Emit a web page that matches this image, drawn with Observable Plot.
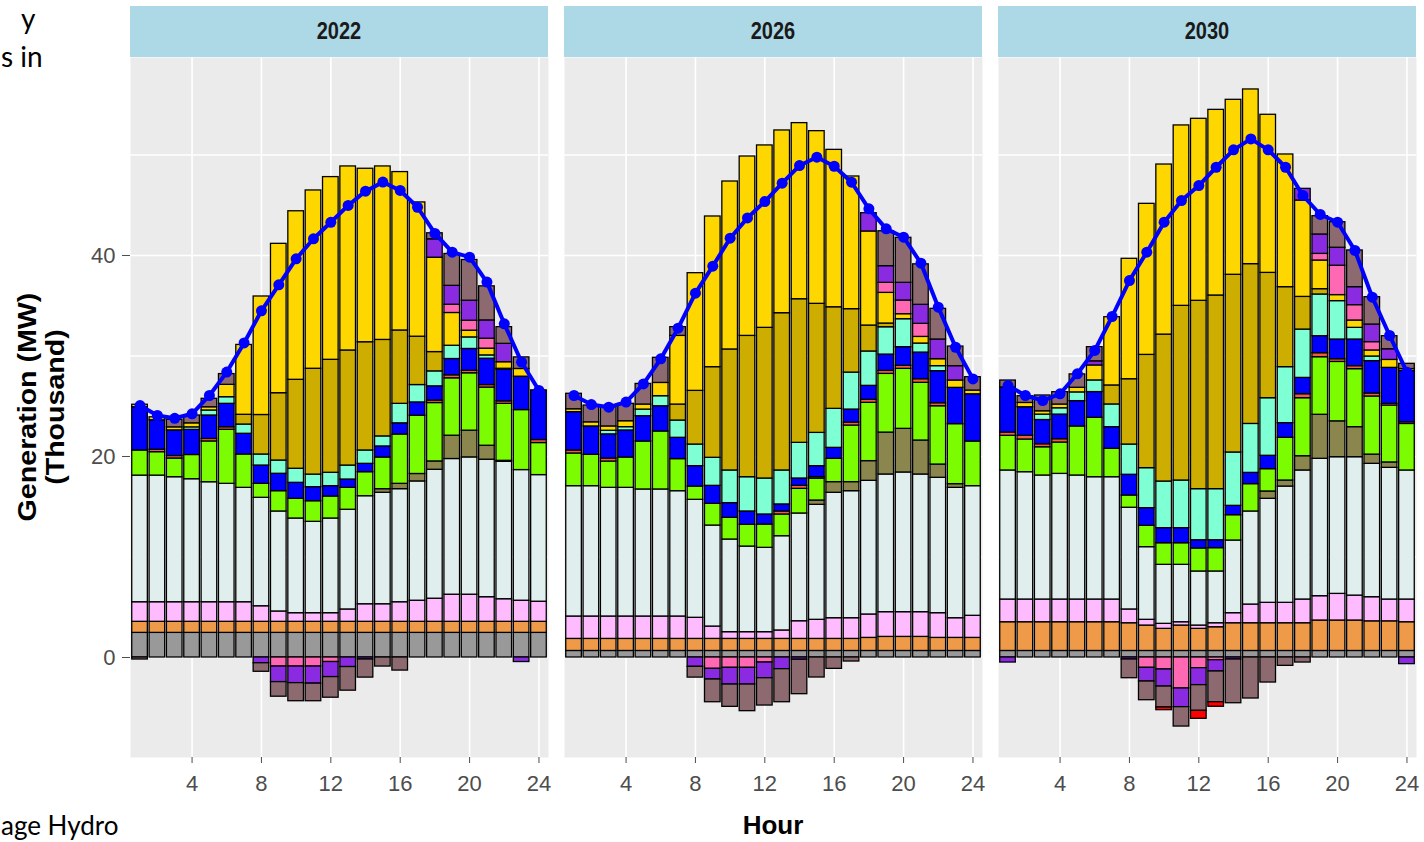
<!DOCTYPE html>
<html>
<head>
<meta charset="utf-8">
<script src="https://cdn.jsdelivr.net/npm/d3@7"></script>
<script src="https://cdn.jsdelivr.net/npm/@observablehq/plot@0.6"></script>
<style>
  html, body { margin: 0; padding: 0; background: #ffffff; }
  body { width: 1424px; height: 842px; position: relative; overflow: hidden; font-family: "Liberation Sans", Arial, sans-serif; }
  #chart { position: absolute; left: 0; top: 57px; }
  .strip { position: absolute; top: 6px; height: 51px; width: 418px; background: #ADD8E6; display: flex; align-items: center; justify-content: center; }
  .strip span { font-weight: bold; font-size: 20px; color: #1a1a1a; display: inline-block; transform: scaleY(1.18); }
  .ylab { position: absolute; width: 320px; text-align: center; font-weight: bold; font-size: 26px; color: #000; line-height: 30px; transform: scaleY(1.1) rotate(-90deg); transform-origin: center center; }
  .xlab { position: absolute; left: 673px; width: 200px; top: 810px; text-align: center; font-weight: bold; font-size: 26px; color: #000; line-height: 30px; }
  .slide { position: absolute; font-family: Lato, "Open Sans", sans-serif; color: #000; white-space: nowrap; }
</style>
</head>
<body>
<div class="slide" style="left:21px; top:4px; font-size:28px; line-height:28px;">y</div>
<div class="slide" style="left:1px; top:42px; font-size:28px; line-height:28px;">s in</div>
<div class="slide" style="left:1px; top:812px; font-size:26px; line-height:26px;">age Hydro</div>

<div class="strip" style="left:130px;"><span>2022</span></div>
<div class="strip" style="left:564px;"><span>2026</span></div>
<div class="strip" style="left:998px;"><span>2030</span></div>

<div class="ylab" style="left:-133px; top:392px;">Generation (MW)</div>
<div class="ylab" style="left:-105px; top:392px;">(Thousand)</div>
<div class="xlab">Hour</div>

<div id="chart"></div>

<script>
// ---------- categories ----------
const hours = [1,2,3,4,5,6,7,8,9,10,11,12,13,14,15,16,17,18,19,20,21,22,23,24];
const years = ["2022", "2026", "2030"];
const seriesNames = ["Nuclear","Geothermal","Biomass","Natural Gas","Gas Peaker","Hydro","Other","Imports","Wind","Rooftop Solar","Utility Solar","Pumped Storage Hydro","Battery Storage","Other Storage","Curtailment"];
const seriesColors = ["#999999","#EE9A49","#FFBBFF","#E0EEEE","#8B864E","#7CFC00","#EE5C42","#0000FF","#7FFFD4","#CDAD00","#FFD700","#FF69B4","#8A2BE2","#8C6A70","#FF0000"];
const yTicks = [0, 20, 40];
const yGrid = [0, 10, 20, 30, 40, 50];
const xTicks = [4, 8, 12, 16, 20, 24];

// ---------- 2022 (thousand MW) ----------
const nuclear_2022 = [2.45,2.45,2.45,2.45,2.45,2.45,2.45,2.45,2.45,2.45,2.45,2.45,2.45,2.45,2.45,2.45,2.45,2.45,2.45,2.45,2.45,2.45,2.45,2.45];
const geothermal_2022 = [1.1,1.1,1.1,1.1,1.1,1.1,1.1,1.1,1.1,1.1,1.1,1.1,1.1,1.1,1.1,1.1,1.1,1.1,1.1,1.1,1.1,1.1,1.1,1.1];
const biomass_2022 = [1.95,1.95,1.95,1.95,1.95,1.95,1.95,1.55,1.03,0.86,0.86,0.86,1.23,1.75,1.75,1.95,2.1,2.3,2.7,2.7,2.45,2.25,2.1,2.0];
const gas_2022 = [12.6,12.6,12.44,12.24,11.94,11.78,11.38,10.79,9.95,9.42,9.09,9.42,9.92,10.75,11.09,11.25,11.87,12.83,13.5,13.66,13.68,13.67,13.0,12.6];
const peaker_2022 = [0,0,0,0,0,0,0,0,0,0,0,0,0,0,0.36,0.53,0.74,0.83,2.32,2.66,1.39,0.1,0,0];
const hydro_2022 = [2.5,2.33,1.86,2.41,4.06,5.38,3.32,1.39,2.02,1.96,2.05,2.19,2.18,2.39,3.15,4.91,5.8,5.81,5.71,5.71,5.79,5.67,5.97,3.19];
const other_2022 = [0,0.25,0.25,0,0.25,0.25,0,0,0,0,0,0,0,0,0,0,0,0.25,0.3,0.25,0.25,0.25,0,0.3];
const imports_2022 = [4.3,2.92,2.55,2.5,2.33,2.33,2.06,1.82,1.73,1.59,1.4,1.03,0.83,0.83,1.1,1.11,1.32,1.41,1.62,2.17,2.62,3.14,3.32,4.94];
const wind_2022 = [0,0,0,0.25,0.5,0.66,0.92,1.1,1.32,1.4,1.25,1.33,1.39,1.33,1.0,1.94,1.73,1.49,1.32,1.15,0.33,0.1,0,0];
const rooftop_2022 = [0,0,0,0,0,0,0.97,3.93,6.7,8.85,10.53,11.24,11.45,10.77,9.6,7.3,4.81,1.92,0,0,0,0,0,0];
const utility_2022 = [0.25,0.3,0.3,0.4,0.32,1.23,6.95,11.79,14.86,16.77,17.74,18.18,18.31,17.26,17.26,15.76,13.36,9.39,3.26,0.67,0.67,0.65,0.77,0];
const pumped_2022 = [0,0,0,0,0,0,0,0,-0.9,-0.9,-0.9,-0.45,0,0,0,0,0,0,0.82,0.99,0.99,0,0,0];
const battery_2022 = [0,0,0,0,0,0,0,-0.57,-1.55,-1.65,-1.7,-1.5,-0.95,-0.2,0,0,0,1.83,1.88,1.99,1.82,1.83,-0.45,0];
const storage_2022 = [-0.2,0,0.75,0.78,0.84,1.07,0,-0.85,-1.45,-1.8,-1.75,-2.05,-2.35,-1.8,-0.9,-1.3,0,0.6,3.17,4.05,3.39,1.66,1.15,0];
const curtail_2022 = [0,0,0,0,0,0,0,0,0,0,0,0,0,0,0,0,0,0,0,0,0,0,0,0];
const load_2022 = [25.07,24.08,23.8,24.25,26.07,28.4,31.3,34.5,37.08,39.67,41.66,43.3,44.98,46.4,47.3,46.47,44.8,42.2,40.33,39.83,37.35,33.2,29.38,26.57];

// ---------- 2026 ----------
const nuclear_2026 = [0.65,0.65,0.65,0.65,0.65,0.65,0.65,0.65,0.65,0.65,0.65,0.65,0.65,0.65,0.65,0.65,0.65,0.65,0.65,0.65,0.65,0.65,0.65,0.65];
const geothermal_2026 = [1.2,1.2,1.2,1.2,1.2,1.2,1.2,1.2,1.2,1.2,1.2,1.2,1.2,1.2,1.2,1.2,1.2,1.3,1.4,1.4,1.4,1.3,1.3,1.3];
const biomass_2026 = [2.23,2.23,2.23,2.23,2.23,2.23,2.23,2.1,1.23,0.67,0.67,0.67,0.84,1.76,1.9,2.06,2.06,2.33,2.46,2.46,2.46,2.46,1.96,2.2];
const gas_2026 = [12.97,12.97,12.8,12.8,12.64,12.64,12.47,11.74,10.05,9.22,8.52,8.39,9.38,10.72,11.44,12.48,12.64,13.3,13.7,13.9,13.7,13.47,12.97,12.9];
const peaker_2026 = [0,0,0,0,0,0,0,0,0,0,0,0,0,0,0.43,1.06,0.9,1.96,4.17,4.34,3.38,1.32,0.37,0];
const hydro_2026 = [3.25,3.12,2.62,3.02,4.77,5.77,3.19,1.32,2.16,2.16,2.16,2.32,2.16,2.45,2.18,2.32,5.63,5.8,5.84,5.97,5.74,5.8,5.97,4.44];
const other_2026 = [0.3,0,0.3,0,0,0,0,0,0,0,0,0,0.3,0.3,0.15,0,0.3,0.3,0.3,0.3,0.36,0.3,0,0];
const imports_2026 = [3.81,2.82,2.4,2.69,2.52,2.51,2.12,2.03,1.79,1.46,1.33,1.0,0.7,0.73,1.09,1.09,1.29,1.39,1.62,1.86,2.65,3.19,3.61,4.7];
const wind_2026 = [0,0,0.36,0.33,0.66,1.0,1.72,2.15,2.79,3.25,3.41,3.58,3.38,3.55,3.31,3.88,3.68,3.42,2.72,2.78,0.9,0.5,0,0];
const rooftop_2026 = [0,0,0,0,0,0,1.59,5.34,9.02,12.04,14.06,14.99,15.65,14.29,12.84,10.11,6.31,2.58,0.37,0,0,0,0,0];
const utility_2026 = [0.29,0.41,0.43,0.59,0.5,1.32,6.83,11.71,14.99,16.71,17.85,18.15,18.18,17.52,17.18,15.66,13.2,9.36,3.05,0.5,0.66,0.69,0.73,0.37];
const pumped_2026 = [0,0,0,0,0,0,0,0,-1.13,-1.03,-1.03,-0.5,0,0,0,0,0,0,1.0,1.36,1.3,0,0,0];
const battery_2026 = [0,0,0,0,0,0,0,-0.93,-1.06,-1.66,-1.66,-1.56,-1.16,-0.22,0,0,0,1.82,1.66,1.76,1.89,1.96,1.43,0];
const storage_2026 = [1.54,1.67,1.92,1.73,2.05,2.5,0.87,-1.07,-2.26,-2.22,-2.65,-2.72,-3.29,-3.43,-1.99,-1.13,-0.4,0,3.47,4.48,4.03,3.05,1.95,1.33];
const curtail_2026 = [0,0,0,0,0,0,0,0,0,0,0,0,0,0,0,0,0,0,0,0,0,0,0,0];
const load_2026 = [26.07,25.17,24.91,25.41,27.22,29.72,32.77,36.25,38.94,41.72,43.74,45.37,47.19,48.95,49.78,48.88,47.29,44.64,42.65,41.82,39.23,34.86,30.87,27.72];

// ---------- 2030 ----------
const nuclear_2030 = [0.65,0.65,0.65,0.65,0.65,0.65,0.65,0.65,0.65,0.65,0.65,0.65,0.65,0.65,0.65,0.65,0.65,0.65,0.65,0.65,0.65,0.65,0.65,0.65];
const geothermal_2030 = [2.86,2.86,2.86,2.86,2.86,2.86,2.86,2.76,2.53,2.2,2.53,2.2,2.36,2.76,2.76,2.76,2.76,2.76,3.03,3.03,3.03,2.95,2.95,2.86];
const biomass_2030 = [2.26,2.26,2.26,2.26,2.26,2.26,2.26,1.37,0.57,0.5,0.33,0.33,0.4,1.0,1.86,2.03,2.03,2.36,2.42,2.65,2.48,2.4,2.17,2.26];
const gas_2030 = [12.84,12.67,12.34,12.5,12.34,12.17,12.17,10.12,7.23,5.87,5.71,5.38,5.15,7.23,9.26,10.35,11.57,12.84,13.67,13.6,13.77,13.27,13.1,12.84];
const peaker_2030 = [0,0,0,0,0,0,0,0,0,0,0,0,0,0,0,0.73,0.6,1.42,4.38,3.57,2.99,0.92,0.54,0];
const hydro_2030 = [3.45,3.25,2.81,3.12,4.88,5.91,2.83,1.22,2.12,2.15,2.15,2.29,2.32,2.52,2.72,2.22,4.25,5.77,5.73,5.91,5.77,5.78,5.66,4.63];
const other_2030 = [0.33,0.37,0.3,0.33,0,0,0,0,0,0,0,0,0,0,0,0,0,0.4,0.4,0.27,0.3,0.3,0.17,0.17];
const imports_2030 = [4.48,2.84,2.41,2.45,2.52,2.56,2.15,2.06,1.76,1.5,1.5,0.82,0.79,0.93,1.12,1.33,1.46,1.62,1.69,1.96,2.65,3.22,3.58,5.09];
const wind_2030 = [0,0,0.54,0.63,0.87,1.16,2.26,3.01,3.98,4.64,4.74,5.08,5.08,5.31,4.87,5.73,5.57,4.81,4.15,3.82,1.16,0.46,0,0];
const rooftop_2030 = [0,0,0,0,0,0,1.89,6.5,11.27,14.62,17.38,18.74,19.27,17.68,15.9,12.47,7.96,3.25,0.53,0,0,0,0,0];
const utility_2030 = [0,0.43,0.33,0.37,0.46,1.49,6.79,11.98,15.03,16.92,17.95,18.11,18.47,17.41,17.38,15.73,13.2,9.59,2.85,0.6,0.73,0.6,0.79,0.2];
const pumped_2030 = [0,0,0,0,0,0,0,0,-1.03,-1.19,-3.08,-1.06,-0.27,0,0,0,0,0,0.66,2.92,1.53,0.83,0,0];
const battery_2030 = [-0.5,0,0,0,0,0.41,0,-0.2,-1.36,-1.7,-1.86,-1.69,-1.12,-0.2,0,0,0,1.16,1.93,1.79,1.79,1.75,1.06,-0.66];
const storage_2030 = [0.69,0.67,1.57,1.23,1.33,1.41,0,-1.86,-1.86,-2.08,-1.93,-2.56,-3.06,-4.35,-4.08,-2.49,-0.83,-0.5,1.82,2.54,3.65,2.72,1.3,0.52];
const curtail_2030 = [0,0,0,0,0,0,0,0,0,-0.27,0,-0.79,-0.45,0,0,0,0,0,0,0,0,0,0,0];
const load_2030 = [27.06,26.07,25.57,26.24,28.23,30.55,33.93,37.51,40.33,43.31,45.47,46.96,48.78,50.51,51.6,50.51,48.78,45.97,44.08,43.31,40.5,35.85,32.04,28.39];

// ---------- tables built from the arrays ----------
const seriesByYear = {
  "2022": [nuclear_2022, geothermal_2022, biomass_2022, gas_2022, peaker_2022, hydro_2022, other_2022, imports_2022, wind_2022, rooftop_2022, utility_2022, pumped_2022, battery_2022, storage_2022, curtail_2022],
  "2026": [nuclear_2026, geothermal_2026, biomass_2026, gas_2026, peaker_2026, hydro_2026, other_2026, imports_2026, wind_2026, rooftop_2026, utility_2026, pumped_2026, battery_2026, storage_2026, curtail_2026],
  "2030": [nuclear_2030, geothermal_2030, biomass_2030, gas_2030, peaker_2030, hydro_2030, other_2030, imports_2030, wind_2030, rooftop_2030, utility_2030, pumped_2030, battery_2030, storage_2030, curtail_2030]
};
const loadByYear = {"2022": load_2022, "2026": load_2026, "2030": load_2030};

const gen = [];
for (const year of years) {
  seriesByYear[year].forEach((vals, s) => {
    hours.forEach((h, i) => {
      if (vals[i] !== 0) gen.push({year, hour: h, series: seriesNames[s], value: vals[i]});
    });
  });
}
const load = [];
for (const year of years) {
  hours.forEach((h, i) => load.push({year, hour: h, load: loadByYear[year][i]}));
}

const chart = Plot.plot({
  width: 1424,
  height: 760,
  marginLeft: 130,
  marginRight: 8,
  marginTop: 0,
  marginBottom: 60,
  style: {fontFamily: "Liberation Sans, Arial, sans-serif", background: "transparent", overflow: "visible"},
  fx: {domain: years, axis: null, paddingInner: 16 / 434, paddingOuter: 0, round: false},
  x: {type: "band", domain: hours, paddingInner: 0.1, paddingOuter: 0.1, round: false},
  y: {domain: [-9.95, 59.7]},
  color: {domain: seriesNames, range: seriesColors},
  marks: [
    Plot.frame({fill: "#EBEBEB", stroke: null}),
    Plot.gridY({ticks: yGrid, stroke: "#ffffff", strokeOpacity: 1, strokeWidth: 1.6}),
    Plot.gridX({ticks: xTicks, stroke: "#ffffff", strokeOpacity: 1, strokeWidth: 1.6}),
    Plot.barY(gen, {fx: "year", x: "hour", y: "value", fill: "series", stroke: "#000000", strokeWidth: 1.3}),
    Plot.line(load, {fx: "year", x: "hour", y: "load", stroke: "#0000FF", strokeWidth: 4}),
    Plot.dot(load, {fx: "year", x: "hour", y: "load", fill: "#0000FF", r: 5.5}),
    Plot.axisY({ticks: yTicks, tickSize: 8, tickPadding: 7, fontSize: 22, color: "#4d4d4d", label: null}),
    Plot.axisX({ticks: xTicks, tickSize: 6, tickPadding: 12, fontSize: 22, color: "#4d4d4d", label: null})
  ]
});
document.getElementById("chart").appendChild(chart);
</script>
</body>
</html>
